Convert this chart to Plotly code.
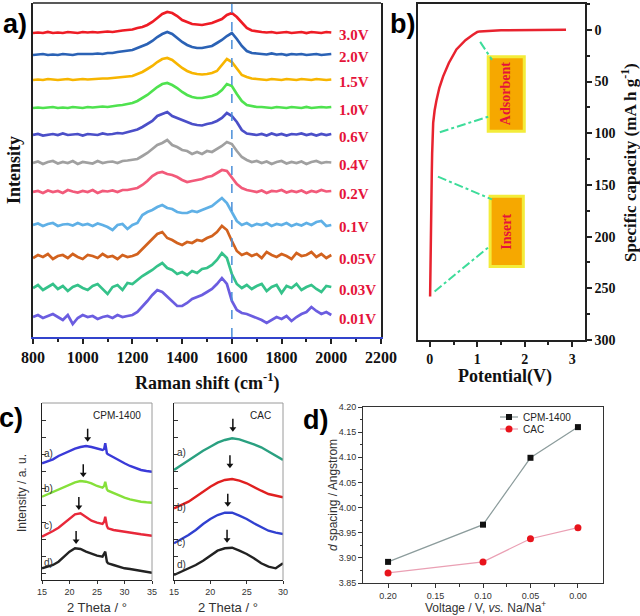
import plotly.graph_objects as go

# ======================= DATA =======================
# ---- panel a: Raman spectra (height above each trace's own baseline)
raman_shift = list(range(800, 2001, 20))
spectrum_labels = ["3.0V", "2.0V", "1.5V", "1.0V", "0.6V", "0.4V", "0.2V", "0.1V", "0.05V", "0.03V", "0.01V"]
int_3_0V = [0,0.5,0,1,0,0.5,0,1,0.5,0,1,0.5,1,0.5,1,1.5,1,2,2.5,3,
            3.5,5,6,8,11,15,19,21,20,17,13,11,9,8.5,8,9,10,12,14,18,20,16,10,5,2.5,1.5,
            1,0.5,1,0,0.5,1,0,0.5,1,0,1,0.5,0,1,0.5]
int_2_0V = [0,0.5,1,0,0.5,0,1,0.5,0,1,1,0.5,1,1.5,1,2,2,3,3.5,4,
            5,7,9,11,14,18,21,23,21,17,13,10,8,7,7,8,9,12,15,19,22,16,9,4,2,1.5,
            1,0.5,1.5,0.5,1,0,1,0.5,1,0,0.5,1,0,0.5,1]
int_1_5V = [0,0.5,0,1,0.5,0,0.5,1,0,0.5,1,0.5,1,1,1.5,1.5,2,2.5,3,3.5,
            4,6,8,11,14,18,21,22,20,16,12,9,7,6,5.5,6,7,9,15,21,18,11,5,3,1.5,1,
            0.5,0,1,0.5,0,1,0.5,0,1,0.5,0,1,0.5,0,0.5]
int_1_0V = [0,0.5,0,0.5,1,0,0.5,0,1,0.5,0,1,0.5,1,1.5,1,2,2.5,3,4,
            5,7,10,13,17,21,24,25,23,20,16,13,11,10,10,11,12,14,18,24,22,14,7,3,2,1,
            1,0.5,0,1,0.5,0,1,0.5,0,1,0,0.5,1,0.5,1]
int_0_6V = [0,1,-0.5,0.5,1,0,1.5,0,0.5,1,-0.5,1,0.5,0,1.5,0.5,1,2,1.5,3,
            4,5.5,8,11,14,19,21,23,19,17,15,13,11,10,9.5,11,12,14,17,22,19,13,5,1.5,1,0,
            1,-0.5,1.5,0,1,-0.5,1,0.5,1.5,0,1,-0.5,1,0,1]
int_0_4V = [0,1.5,-1,1,2,-0.5,1,0,2,-1,1,0.5,-0.5,2,0,1,1.5,0,2,2.5,
            3,4,7,10,14,18,20,23,18,16,13,12,9,11,9,12,11,14,17,21,19,12,6,3,1,2,
            0,1.5,-1,1,2,-0.5,1,0,1.5,-1,1,2,0,1,0.5]
int_0_2V = [0,1,-1,1.5,0,1,-1,2,0.5,-0.5,1,0,2,-1,1,0.5,1.5,0,2,2,
            3,4,7,11,16,19,20,18,17,15,12,10,11,12,13,15,16,19,22,21,14,8,4,2,1,0,
            1.5,-1,1,0.5,2,-0.5,1,0,1.5,-1,1,0,2,0.5,1]
int_0_1V = [0,1.5,-1,1,2,-1,0.5,1,-0.5,2,0,1,-1,1.5,0,-2,-5,0,1,-4,
            0,2,10,13,15,18,20,17,16,13,12,12,14,13,15,17,19,23,27,22,13,4,0,2,-1,1,
            0,2,-1,1,0,2,-1,1,-0.5,2,0,3,4,-1,0]
int_0_05V = [-1,2,0,3,-2,1,2,-1,3,0,-2,2,1,-1,3,0,1,-2,2,0,
             1,3,8,13,18,23,25,19,17,14,12,15,14,17,16,19,21,25,31,27,16,6,2,4,1,3,
             -1,5,2,0,3,1,-2,4,1,2,5,0,3,-1,2]
int_0_03V = [0,3,-2,1,4,-1,2,-3,1,3,0,-2,2,4,-1,-6,1,3,-2,5,
             4,8,12,15,18,22,25,20,18,14,16,13,17,15,19,20,23,28,35,30,14,4,0,3,-1,2,
             4,-3,1,3,-5,2,0,4,-2,1,3,-1,-4,2,1]
int_0_01V = [0,2,-1,1,3,0,-3,2,-7,-1,2,0,1,-2,0,1,-1,2,0,1,
             2,5,10,16,22,27,25,20,15,11,11,14,18,20,22,25,28,33,39,33,16,7,4,3,1,-1,
             -3,-6,-3,0,-2,1,-4,0,3,5,10,6,3,5,2]
spectra = [int_3_0V, int_2_0V, int_1_5V, int_1_0V, int_0_6V, int_0_4V,
           int_0_2V, int_0_1V, int_0_05V, int_0_03V, int_0_01V]
g_band_marker = 1600

# ---- panel b: discharge curve
potential_V = [2.87, 1.5, 1.05, 1.0, 0.9, 0.75, 0.56, 0.4, 0.28, 0.2, 0.14, 0.1,
               0.07, 0.055, 0.048, 0.04, 0.03, 0.015, 0.005]
capacity_mAhg = [0, 0.5, 1.5, 2, 5, 10, 19, 32, 45, 56, 68, 78,
                 90, 105, 120, 140, 170, 215, 258]

# ---- panel c: XRD patterns (a.u.)
cpm_theta = [15,16,17,18,19,20,21,22,23,24,25,26,26.3,26.5,26.8,27,28,29,30,31,32,33,34,35]
cpm_a = [116.7,119,120.7,124,126.7,129.3,131.3,133,134,133,131.7,130,131,136.7,126.7,125.7,122.7,119.3,116.7,114,111.7,110,109,108.3]
cpm_b = [83.3,85.7,88.3,90.7,93.3,95.7,97.7,99,98.3,96.7,94,92.3,94,98.3,90.7,89.3,86.7,84.3,82.3,80.7,79.3,78.3,77.7,77.3]
cpm_c = [43.3,46,49,52.3,56.7,60.7,65.7,66.7,62.7,59.3,57.3,56,58.3,63.3,54,51.7,50,49,48,47.3,46.7,45.7,45,44.3]
cpm_d = [11.7,13.3,15,18.3,23.3,28.3,31.7,31,28.3,26,24.3,23.3,26,28.3,18.3,16.7,15,13.3,11.7,11,10,9,8,7.3]
cac_theta = [15,16,17,18,19,20,21,22,23,24,25,26,27,28,29,30]
cac_a = [110,115,120,125,129.3,133.3,137.3,140,141.7,140.7,138.3,135.7,132.7,128.3,124,120]
cac_b = [71.7,75,78.3,83.3,88.3,93.3,97.3,100,101,99.3,96.7,92.7,89.3,86,84,82.7]
cac_c = [36.7,40.7,45,50,56,61,65,67.3,67.3,64.3,61,56.7,52.7,49.3,47.3,46]
cac_d = [5,8.3,11.7,15,19.3,24.3,29.3,31.7,32.3,29.3,26,21.7,16.7,13.3,11.7,16.7]
curve_letters = ["a)", "b)", "c)", "d)"]
cpm_peak_theta = [23.3, 22.5, 21.7, 21.2]
cpm_peak_level = [138.3, 102.7, 70, 36]
cac_peak_theta = [23.1, 22.7, 22.4, 22.3]
cac_peak_level = [148.3, 111.7, 73.3, 37.3]

# ---- panel d: d-spacing
d_voltage = [0.20, 0.10, 0.05, 0.00]
d_cpm1400 = [3.892, 3.966, 4.099, 4.160]
d_cac = [3.870, 3.892, 3.938, 3.960]

# ======================= STYLE =======================
W, H = 640, 616
SERIF = "Liberation Serif"
SANS = "Liberation Sans"
def px(x): return x / W
def py(y): return 1 - y / H

spec_colors = ["#ee1c25", "#2b62b5", "#f7b500", "#4fe24f", "#4b4fc8", "#a0a0a0",
               "#f25a7a", "#5fb0e6", "#d2621e", "#35c28a", "#6b5de0"]
spec_offsets = [304, 282, 257, 229, 202, 174, 145, 112, 80, 49, 20]
label_red = "#e5133a"

fig = go.Figure()
annotations = []
shapes = []

def ann(text, x, y, size, family=SANS, color="#111", bold=False, angle=0, xanchor="center", yanchor="middle"):
    annotations.append(dict(text=text, x=px(x), y=py(y), xref="paper", yref="paper",
                            showarrow=False, textangle=angle, xanchor=xanchor, yanchor=yanchor,
                            font=dict(family=family, size=size, color=color,
                                      weight="bold" if bold else "normal")))

# ---------- panel a ----------
for lab, vals, col, off in zip(spectrum_labels, spectra, spec_colors, spec_offsets):
    assert len(vals) == len(raman_shift), lab
    fig.add_trace(go.Scatter(x=raman_shift, y=[v + off for v in vals], mode="lines",
                             line=dict(color=col, width=2.7), xaxis="x", yaxis="y", showlegend=False))
    annotations.append(dict(text=lab, x=2022, y=off - 2, xref="x", yref="y", showarrow=False,
                            xanchor="left", yanchor="middle",
                            font=dict(family=SERIF, size=15, color=label_red, weight="bold")))
shapes.append(dict(type="line", xref="x", yref="y domain", x0=g_band_marker, x1=g_band_marker, y0=0, y1=1,
                   line=dict(color="#4a8fd8", width=1.5, dash="dash")))
shapes.append(dict(type="line", xref="x domain", yref="y domain", x0=0, x1=1, y0=1, y1=1,
                   line=dict(color="#222", width=1.5)))

# ---------- panel b ----------
fig.add_trace(go.Scatter(x=potential_V, y=capacity_mAhg, mode="lines", line=dict(color="#e8232f", width=2.5),
                         xaxis="x2", yaxis="y2", showlegend=False))
box_style = dict(fillcolor="#f6a800", line=dict(color="#f3ec3a", width=3), layer="above")
shapes.append(dict(type="rect", xref="x2", yref="y2", x0=1.23, x1=1.99, y0=26, y1=98, **box_style))
shapes.append(dict(type="rect", xref="x2", yref="y2", x0=1.27, x1=1.97, y0=161, y1=229, **box_style))
leaders = [((1.06, 11.6), (1.31, 29)), ((0.21, 99), (1.23, 84)),
           ((0.17, 142), (1.31, 164)), ((0.1, 253), (1.27, 209))]
for (x0, y0), (x1, y1) in leaders:
    shapes.append(dict(type="line", xref="x2", yref="y2", x0=x0, y0=y0, x1=x1, y1=y1,
                       line=dict(color="#3ddc9a", width=2, dash="dashdot")))
for txt, yc in (("Adsorbent", 62), ("Insert", 195)):
    annotations.append(dict(text=txt, x=1.61, y=yc, xref="x2", yref="y2", showarrow=False, textangle=-90,
                            font=dict(family=SERIF, size=14, color=label_red, weight="bold")))

# ---------- panel c ----------
cpm_cols = ["#3a3ad8", "#86e03a", "#e8283a", "#222222"]
cac_cols = ["#2aa080", "#e02020", "#3040d0", "#222222"]
for vals, col in zip([cpm_a, cpm_b, cpm_c, cpm_d], cpm_cols):
    fig.add_trace(go.Scatter(x=cpm_theta, y=vals, mode="lines", line=dict(color=col, width=2.4),
                             xaxis="x3", yaxis="y3", showlegend=False))
for vals, col in zip([cac_a, cac_b, cac_c, cac_d], cac_cols):
    fig.add_trace(go.Scatter(x=cac_theta, y=vals, mode="lines", line=dict(color=col, width=2.4),
                             xaxis="x4", yaxis="y4", showlegend=False))
# peak arrows: shaft + small head
for xs, ys, xr, yr in ((cpm_peak_theta, cpm_peak_level, "x3", "y3"), (cac_peak_theta, cac_peak_level, "x4", "y4")):
    for xv, yv in zip(xs, ys):
        fig.add_trace(go.Scatter(x=[xv, xv], y=[yv + 13, yv + 3], mode="lines",
                                 line=dict(color="#111", width=1.5), xaxis=xr, yaxis=yr, showlegend=False))
        fig.add_trace(go.Scatter(x=[xv], y=[yv + 3], mode="markers",
                                 marker=dict(symbol="triangle-down", size=6, color="#111"),
                                 xaxis=xr, yaxis=yr, showlegend=False))
for k, lt in enumerate(curve_letters):
    ann(lt, 48, [453, 489, 525, 562][k], 10, color="#333")
    ann(lt, 181, [452, 507, 542, 564][k], 10, color="#333")
for dom in ("x3", "x4"):
    yd = "y3" if dom == "x3" else "y4"
    shapes.append(dict(type="line", xref=dom + " domain", yref=yd + " domain", x0=0, x1=1, y0=1, y1=1,
                       line=dict(color="#9a9a9a", width=1)))
    shapes.append(dict(type="line", xref=dom + " domain", yref=yd + " domain", x0=1, x1=1, y0=0, y1=1,
                       line=dict(color="#9a9a9a", width=1)))

# ---------- panel d ----------
fig.add_trace(go.Scatter(x=d_voltage, y=d_cpm1400, mode="lines+markers",
                         line=dict(color="#8c9c9c", width=1.2),
                         marker=dict(symbol="square", size=6, color="#111"),
                         xaxis="x5", yaxis="y5", showlegend=False))
fig.add_trace(go.Scatter(x=d_voltage, y=d_cac, mode="lines+markers",
                         line=dict(color="#eaa0b4", width=1.2),
                         marker=dict(symbol="circle", size=7, color="#e8141c"),
                         xaxis="x5", yaxis="y5", showlegend=False))
# manual legend
shapes.append(dict(type="line", xref="paper", yref="paper", x0=px(500), x1=px(518), y0=py(417), y1=py(417),
                   line=dict(color="#8c9c9c", width=1.2)))
shapes.append(dict(type="rect", xref="paper", yref="paper", x0=px(506), x1=px(512), y0=py(420), y1=py(414),
                   fillcolor="#111", line=dict(width=0)))
shapes.append(dict(type="line", xref="paper", yref="paper", x0=px(500), x1=px(518), y0=py(429), y1=py(429),
                   line=dict(color="#eaa0b4", width=1.2)))
shapes.append(dict(type="circle", xref="paper", yref="paper", x0=px(505.5), x1=px(512.5), y0=py(432.5), y1=py(425.5),
                   fillcolor="#e8141c", line=dict(width=0)))
ann("CPM-1400", 521, 417, 10, color="#222", xanchor="left")
ann("CAC", 521, 429, 10, color="#222", xanchor="left")

# ---------- titles / labels ----------
ann("a)", 15, 24, 27, bold=True, color="#000")
ann("b)", 402, 24, 27, bold=True, color="#000")
ann("c)", 11, 418, 27, bold=True, color="#000")
ann("d)", 315, 420, 27, bold=True, color="#000")
ann("Intensity", 14, 170, 18, family=SERIF, bold=True, angle=-90)
ann("Raman shift (cm<sup>-1</sup>)", 207, 382, 18, family=SERIF, bold=True)
ann("Potential(V)", 505, 376, 18, family=SERIF, bold=True)
ann("Specific capacity (mA h g<sup>-1</sup>)", 629, 163, 17, family=SERIF, bold=True, angle=-90)
ann("CPM-1400", 117, 415, 10, color="#222")
ann("CAC", 260, 415, 10, color="#222")
ann("Intensity / a. u.", 22, 493, 12, color="#333", angle=-90)
ann("2 Theta / °", 97, 607, 13, color="#333")
ann("2 Theta / °", 228, 607, 13, color="#333")
ann("<i>d</i> spacing / Angstrom", 333, 495, 12, color="#333", angle=-90)
ann("Voltage / V, <i>vs.</i> Na/Na<sup>+</sup>", 485, 607, 12, color="#333")

# ======================= AXES =======================
serif_tick = lambda s: dict(family=SERIF, size=s, color="#111", weight="bold")
sans_tick = dict(family=SANS, size=9, color="#333")
common = dict(showgrid=False, zeroline=False, automargin=False)

layout = dict(
    width=W, height=H, margin=dict(l=0, r=0, t=0, b=0, pad=0, autoexpand=False),
    paper_bgcolor="white", plot_bgcolor="white", showlegend=False,
    xaxis=dict(domain=[px(33), px(381)], anchor="y", range=[800, 2200], tick0=800, dtick=200,
               ticks="outside", ticklen=5, tickwidth=1.5, tickcolor="#222",
               minor=dict(dtick=100, tick0=800, ticks="outside", ticklen=3, tickcolor="#222"),
               showline=True, linecolor="#3344cc", linewidth=1.5, tickfont=serif_tick(16), **common),
    yaxis=dict(domain=[py(337), py(3)], anchor="x", range=[0, 334], showticklabels=False, ticks="",
               showline=True, mirror=True, linecolor="#222", linewidth=1.5, **common),
    xaxis2=dict(domain=[px(418), px(585)], anchor="y2", range=[-0.25, 3.27], tick0=0, dtick=1,
                ticks="outside", ticklen=5, tickwidth=1.5, tickcolor="#222",
                minor=dict(dtick=0.5, tick0=0, ticks="outside", ticklen=3, tickcolor="#222"),
                showline=True, mirror=True, linecolor="#222", linewidth=1.5, tickfont=serif_tick(14), **common),
    yaxis2=dict(domain=[py(340), py(4)], anchor="x2", side="right", range=[300, -25], tick0=0, dtick=50,
                ticks="outside", ticklen=5, tickwidth=1.5, tickcolor="#222",
                minor=dict(dtick=25, tick0=0, ticks="outside", ticklen=3, tickcolor="#222"),
                showline=True, mirror=True, linecolor="#222", linewidth=1.5, tickfont=serif_tick(14), **common),
    xaxis3=dict(domain=[px(42), px(152)], anchor="y3", range=[15, 35], tick0=15, dtick=5,
                ticks="outside", ticklen=3, tickcolor="#333", showline=True, linecolor="#222", linewidth=1,
                tickfont=sans_tick, **common),
    yaxis3=dict(domain=[py(580), py(403)], anchor="x3", range=[0, 177], tick0=7, dtick=17,
                ticks="inside", ticklen=4, tickcolor="#333", showticklabels=False,
                showline=True, linecolor="#222", linewidth=1, **common),
    xaxis4=dict(domain=[px(174), px(283)], anchor="y4", range=[15, 30], tick0=15, dtick=5,
                ticks="outside", ticklen=3, tickcolor="#333", showline=True, linecolor="#222", linewidth=1,
                tickfont=sans_tick, **common),
    yaxis4=dict(domain=[py(580), py(403)], anchor="x4", range=[0, 177], tick0=7, dtick=17,
                ticks="inside", ticklen=4, tickcolor="#333", showticklabels=False,
                showline=True, linecolor="#222", linewidth=1, **common),
    xaxis5=dict(domain=[px(363), px(603)], anchor="y5", range=[0.2264, -0.0264],
                tickvals=[0.2, 0.15, 0.1, 0.05, 0.0], tickformat=".2f",
                ticks="outside", ticklen=4, tickcolor="#333",
                minor=dict(tickvals=[0.175, 0.125, 0.075, 0.025], ticks="outside", ticklen=2.5, tickcolor="#333"),
                showline=True, mirror=True, linecolor="#333", linewidth=1, tickfont=sans_tick, **common),
    yaxis5=dict(domain=[py(583), py(407)], anchor="x5", range=[3.85, 4.20], tick0=3.85, dtick=0.05,
                tickformat=".2f", ticks="outside", ticklen=4, tickcolor="#333",
                minor=dict(dtick=0.025, tick0=3.85, ticks="outside", ticklen=2.5, tickcolor="#333"),
                showline=True, mirror=True, linecolor="#333", linewidth=1, tickfont=sans_tick, **common),
    annotations=annotations, shapes=shapes,
)
fig.update_layout(**layout)
fig.write_html("out.html", config={"displayModeBar": False},
               post_script="document.body.style.margin='0';document.body.style.overflow='hidden';")
